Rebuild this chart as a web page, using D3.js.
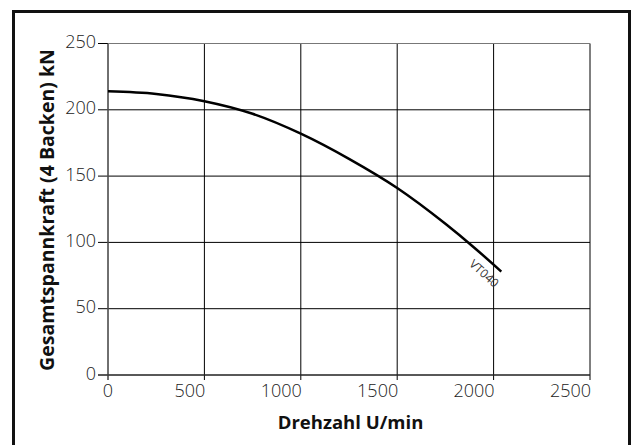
<!DOCTYPE html>
<html><head><meta charset="utf-8">
<script src="https://cdn.jsdelivr.net/npm/d3@7"></script>
<style>body{margin:0;background:#fff}svg{display:block}</style>
</head><body>
<svg id="c" width="633" height="445"></svg>
<script>
const speeds = [0, 250, 500, 750, 1000, 1250, 1500, 1750, 1900, 2040];
const forces = [214, 212, 206.5, 197, 182, 163, 141, 114, 96, 78];
const xTicks = [0, 500, 1000, 1500, 2000, 2500];
const yTicks = [0, 50, 100, 150, 200, 250];
const seriesName = "VT040";
const xTitle = "Drehzahl U/min";
const yTitle = "Gesamtspannkraft (4 Backen) kN";

const svg = d3.select("#c");
const m = {l:108, r:590, t:43.5, b:375};
const x = d3.scaleLinear().domain([0,2500]).range([m.l, m.r]);
const y = d3.scaleLinear().domain([0,250]).range([m.b, m.t]);

// frame
svg.append("rect").attr("x",13.5).attr("y",11.5).attr("width",616).attr("height",450)
  .attr("fill","none").attr("stroke","#111").attr("stroke-width",3);

// grid
svg.append("g").selectAll("line").data(xTicks).join("line")
  .attr("x1",d=>x(d)).attr("x2",d=>x(d)).attr("y1",y(250)).attr("y2",y(0)+5)
  .attr("stroke","#000").attr("stroke-width",1);
svg.append("g").selectAll("line").data(yTicks).join("line")
  .attr("x1",x(0)-10).attr("x2",x(2500)).attr("y1",d=>y(d)).attr("y2",d=>y(d))
  .attr("stroke","#000").attr("stroke-width",1);
// axis lines (gray)
svg.append("line").attr("x1",x(0)).attr("x2",x(0)).attr("y1",y(250)).attr("y2",y(0)+5)
  .attr("stroke","#666").attr("stroke-width",1.2);
svg.append("line").attr("x1",x(0)).attr("x2",x(2500)).attr("y1",y(250)).attr("y2",y(250))
  .attr("stroke","#777").attr("stroke-width",1.2);
svg.append("line").attr("x1",x(0)-10).attr("x2",x(2500)).attr("y1",y(0)).attr("y2",y(0))
  .attr("stroke","#333").attr("stroke-width",1.2);

// tick labels
const tf = "'Open Sans', sans-serif";
svg.append("g").selectAll("text").data(yTicks).join("text")
  .attr("x",x(0)-12).attr("y",d=>y(d)+4.5).attr("text-anchor","end")
  .attr("font-family",tf).attr("font-size",18).attr("font-weight",300).attr("fill","#222")
  .text(d=>d);
svg.append("g").selectAll("text").data(xTicks).join("text")
  .attr("x",d=>d===0 ? x(d) : x(d)+1).attr("y",y(0)+22)
  .attr("text-anchor",d=>d===0 ? "middle" : "end")
  .attr("font-family",tf).attr("font-size",18).attr("font-weight",300).attr("fill","#222")
  .text(d=>d);

// titles
svg.append("text").attr("x",350.5).attr("y",429).attr("text-anchor","middle")
  .attr("font-family",tf).attr("font-weight",700).attr("font-size",18.5).attr("fill","#111")
  .text(xTitle);
svg.append("text").attr("transform","translate(54,210) rotate(-90)").attr("text-anchor","middle")
  .attr("font-family",tf).attr("font-weight",700).attr("font-size",19.5).attr("fill","#111")
  .text(yTitle);

// curve
const pts = speeds.map((s,i)=>[s,forces[i]]);
svg.append("path").datum(pts)
  .attr("d", d3.line().x(d=>x(d[0])).y(d=>y(d[1])).curve(d3.curveMonotoneX))
  .attr("fill","none").attr("stroke","#000").attr("stroke-width",2.5);

// label
const lp = pts[pts.length-1];
svg.append("text")
  .attr("transform",`translate(${x(lp[0])-20},${y(lp[1])+5}) rotate(42)`)
  .attr("text-anchor","middle")
  .attr("font-family",tf).attr("font-size",12).attr("fill","#333")
  .text(seriesName);
</script>
</body></html>
